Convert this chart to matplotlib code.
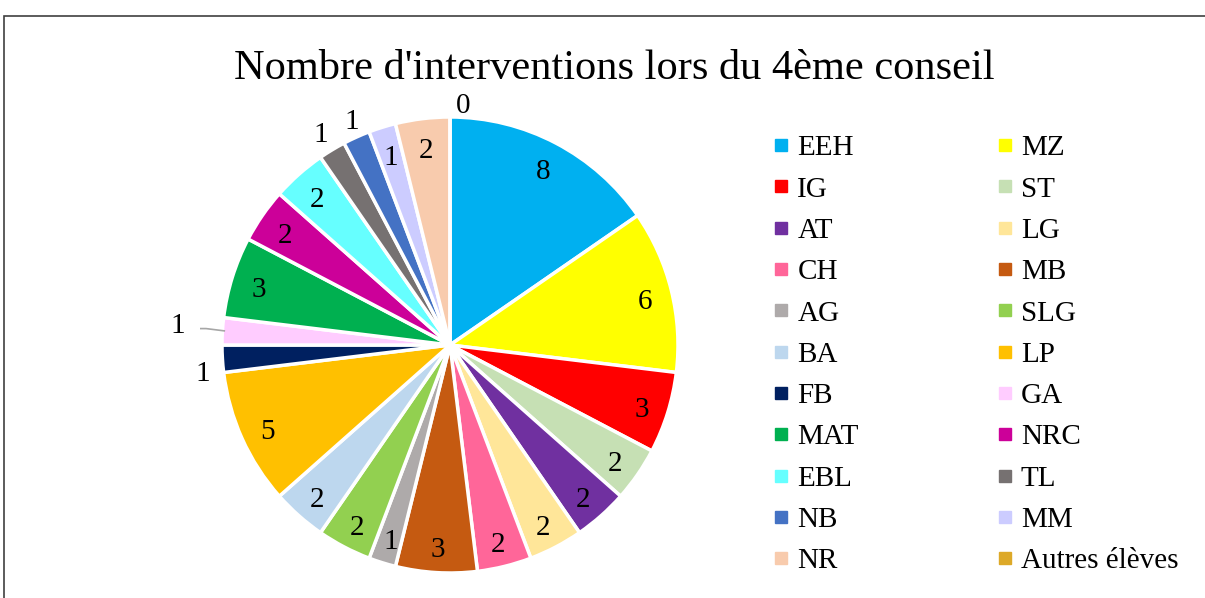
import numpy as np
import matplotlib.pyplot as plt
from matplotlib.lines import Line2D
from matplotlib.patches import Rectangle

plt.rcParams['font.family'] = ['Liberation Serif', 'DejaVu Serif']

title = "Nombre d'interventions lors du 4ème conseil"
labels = ['EEH', 'MZ', 'IG', 'ST', 'AT', 'LG', 'CH', 'MB', 'AG', 'SLG', 'BA',
          'LP', 'FB', 'GA', 'MAT', 'NRC', 'EBL', 'TL', 'NB', 'MM', 'NR',
          'Autres élèves']
values = [8, 6, 3, 2, 2, 2, 2, 3, 1, 2, 2, 5, 1, 1, 3, 2, 2, 1, 1, 1, 2, 0]
colors = ['#00B0F0', '#FFFF00', '#FF0000', '#C6E0B4', '#7030A0', '#FFE699',
          '#FF6699', '#C55A11', '#AEAAAA', '#92D050', '#BDD7EE', '#FFC000',
          '#002060', '#FFCCFF', '#00B050', '#CC0099', '#66FFFF', '#767171',
          '#4472C4', '#CCCCFF', '#F8CBAD', '#DDA928']

W, H = 1205, 598
fig = plt.figure(figsize=(W / 100, H / 100), dpi=100)

# outer chart frame
fig.add_artist(Rectangle((4 / W, -0.1), 1.2, 1 - 16 / H + 0.1, transform=fig.transFigure,
                         fill=False, edgecolor='#404040', linewidth=1.2))

fig.text(614 / W, 1 - 69 / H, title, ha='center', va='center', fontsize=30.5)

# pie axes: center (450, 345) px, radius 228 px
R = 228
half = 250
ax = fig.add_axes([(450 - half) / W, (H - 345 - half) / H, 2 * half / W, 2 * half / H])
ax.axis('off')

wedges, _ = ax.pie(values, colors=colors, startangle=90, counterclock=False,
                   wedgeprops=dict(edgecolor='white', linewidth=2.5))
ax.set_aspect('equal')
ax.set_xlim(-half / R, half / R)
ax.set_ylim(-half / R, half / R)

# label placement (style only): distance and optional angle tweak
outside = {'FB': (1.09, 2), 'GA': (1.2, -1.5), 'TL': (1.1, 0), 'NB': (1.09, -1),
           'Autres élèves': (1.07, -3)}
dy = -5 / R
for w, lab, v in zip(wedges, labels, values):
    mid = (w.theta1 + w.theta2) / 2
    d, da = outside.get(lab, (0.88, 0))
    a = np.deg2rad(mid + da)
    x, y = d * np.cos(a), d * np.sin(a) + dy
    ax.text(x, y, str(v), ha='center', va='center', fontsize=21)
    if lab == 'GA':
        ax.plot([-0.99, -1.07, -1.12], [0.062, 0.072, 0.072], color='#A6A6A6', lw=1.2)

# legend, row-wise order in two columns
handles = [Line2D([], [], marker='s', linestyle='none', markersize=8,
                  markerfacecolor=c, markeredgecolor=c) for c in colors]
order = list(range(0, len(labels), 2)) + list(range(1, len(labels), 2))
fig.legend([handles[i] for i in order], [labels[i] for i in order],
           ncol=2, loc='upper left', bbox_to_anchor=(774 / W, 1 - 135 / H),
           frameon=False, fontsize=21, handlelength=0.5, handletextpad=0.3,
           labelspacing=0.51, columnspacing=4.76, borderaxespad=0, borderpad=0)

fig.savefig('out.png', dpi=100)
